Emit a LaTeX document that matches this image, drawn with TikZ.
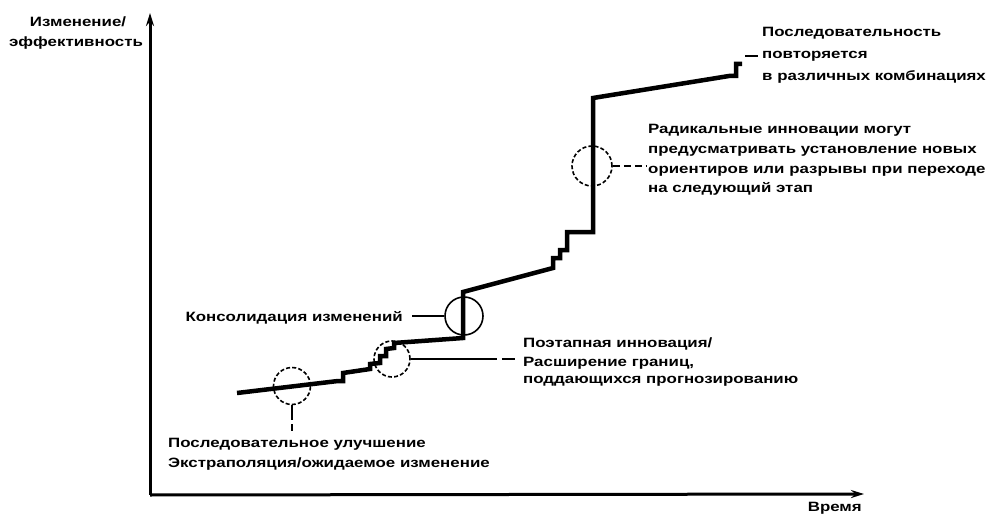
\documentclass[tikz,border=0pt]{standalone}
\usepackage{fontspec}
\setmainfont{Liberation Sans}[FakeStretch=1.25]
\usetikzlibrary{arrows.meta}
\tikzset{
  curve/.style={line width=4.5pt, line join=miter},
  axis/.style={line width=3pt},
  circ/.style={circle, draw, line width=1.6pt, dash pattern=on 4pt off 2.2pt, inner sep=0pt},
  lbl/.style={font=\bfseries\fontsize{13.5}{20}\selectfont, inner sep=0pt},
  lead/.style={line width=1.8pt},
}
\begin{document}
\begin{tikzpicture}[x=1pt,y=-1pt]
\useasboundingbox[fill=white] (0,0) rectangle (1002,516);
% axes
\coordinate (o) at (150,495);
\coordinate (ytop) at (150,13);
\coordinate (xend) at (864,494);
\draw[axis, -{Stealth[length=13pt,width=8pt]}] (o) -- (ytop);
\draw[axis, -{Stealth[length=13pt,width=8pt]}] (o) -- (xend);
% curve
\draw[curve] (237,393) -- (338,381) -- (343,381) -- (343,373) -- (370,369) -- (370,364)
  -- (380,363) -- (380,356) -- (386,356) -- (386,349) -- (394,348) -- (394,343)
  -- (463,338) -- (463,292) -- (553,268) -- (553,258) -- (560,258) -- (560,250)
  -- (567,250) -- (567,232) -- (593,232) -- (593,98) -- (729,76) -- (736,76)
  -- (736,64) -- (742,64);
% circles
\node[circ, minimum size=37pt] (c1) at (292,386) {};
\node[circ, minimum size=36pt] (c2) at (392,359) {};
\node[circ, solid, minimum size=38pt] (c3) at (464,316) {};
\node[circ, minimum size=40pt] (c4) at (592,166) {};
% labels
\node[lbl, align=center, anchor=base] (ya) at (78,27) {Изменение/};
\node[lbl, align=center, anchor=base] (yb) at (76,47) {эффективность};
\node[lbl, anchor=base east] (xl) at (862,511) {Время};

\node[lbl, anchor=base west] (p1) at (762,37) {Последовательность};
\node[lbl, anchor=base west] (p2) at (762,59) {повторяется};
\node[lbl, anchor=base west] (p3) at (762,81) {в различных комбинациях};

\node[lbl, anchor=base west] (r1) at (648,134) {Радикальные инновации могут};
\node[lbl, anchor=base west] (r2) at (648,154) {предусматривать установление новых};
\node[lbl, anchor=base west] (r3) at (648,174) {ориентиров или разрывы при переходе};
\node[lbl, anchor=base west] (r4) at (648,193) {на следующий этап};

\node[lbl, anchor=base east] (k1) at (403,321) {Консолидация изменений};

\node[lbl, anchor=base west] (s1) at (523,347) {Поэтапная инновация/};
\node[lbl, anchor=base west] (s2) at (523,366) {Расширение границ,};
\node[lbl, anchor=base west] (s3) at (523,383) {поддающихся прогнозированию};

\node[lbl, anchor=base west] (b1) at (168,447) {Последовательное улучшение};
\node[lbl, anchor=base west] (b2) at (168,467) {Экстраполяция/ожидаемое изменение};
% leaders
\coordinate (l1) at (292,431);
\draw[lead, dash pattern=on 15pt off 4pt] (c1.south) -- (l1);
\coordinate (l2) at (515,359);
\draw[lead, dash pattern=on 86pt off 5pt on 20pt] (c2.east) -- (l2);
\draw[lead] ([xshift=9pt]k1.east |- c3.west) -- (c3.west);
\coordinate (l4) at (646,166);
\draw[lead, dash pattern=on 7pt off 4pt] (c4.east) -- (l4);
\coordinate (l5a) at (745,56);
\coordinate (l5b) at (758,56);
\draw[lead, line width=2.5pt] (l5a) -- (l5b);
\end{tikzpicture}
\end{document}
